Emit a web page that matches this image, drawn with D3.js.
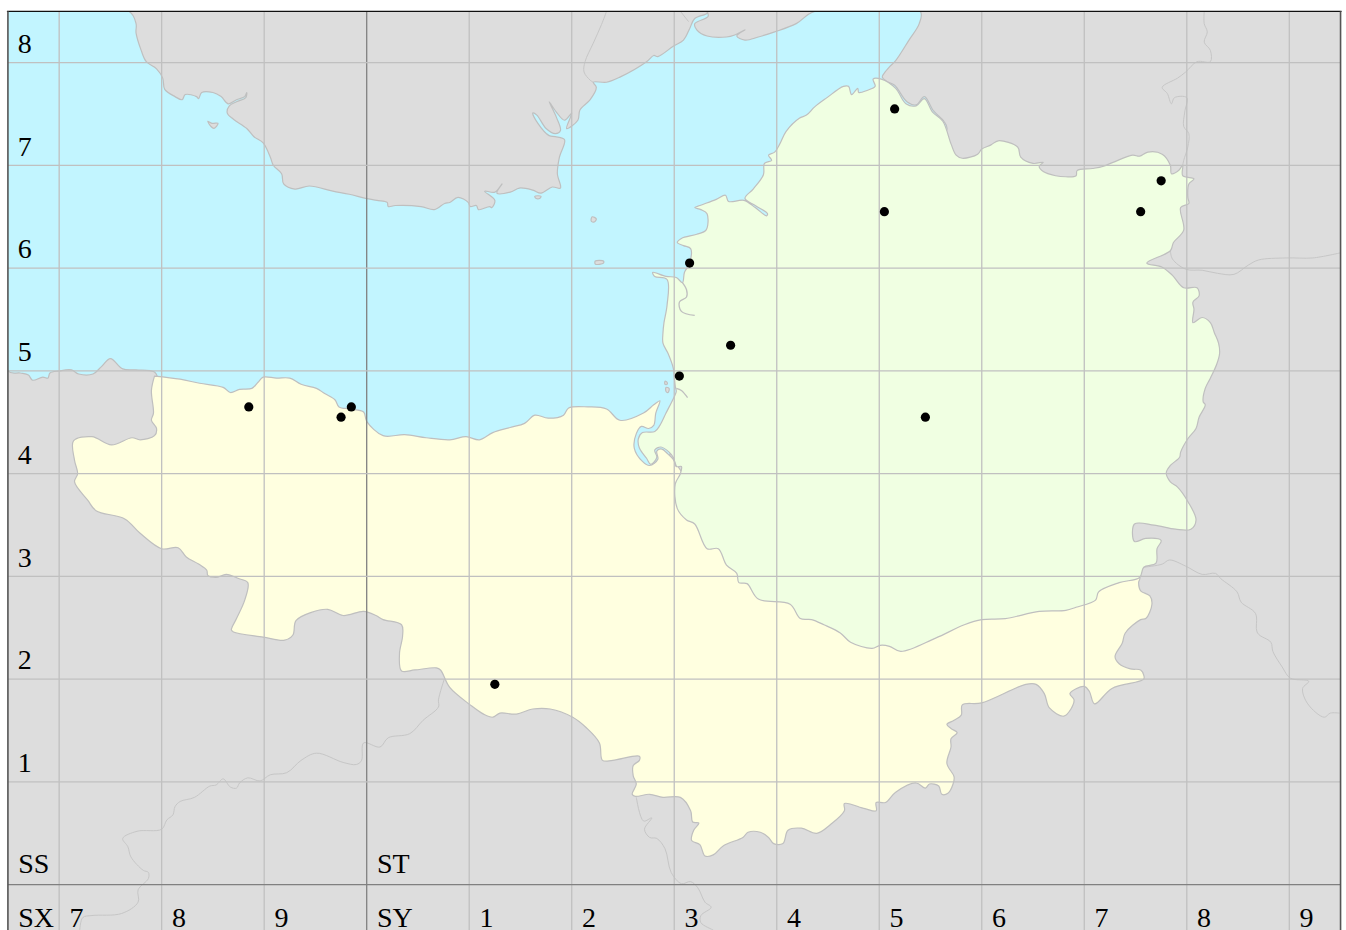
<!DOCTYPE html>
<html lang="en">
<head>
    <meta charset="UTF-8">
    <title>Somerset grid map</title>
    <script src="https://d3js.org/d3.v7.min.js"></script>
    <style>
        body { margin: 0; background: #ffffff; }
        svg { display: block; }
        .land-line { fill: none; stroke: #c6c6c6; stroke-width: 1; }
        .coast { stroke: #bfbfbf; stroke-width: 1.2; stroke-linejoin: round; }
        .grid { stroke: #c0c0c0; stroke-width: 1.3; }
        .grid100 { stroke: #808080; stroke-width: 1.3; }
        text { font-family: "Liberation Serif", serif; font-size: 28px; fill: #000; }
    </style>
</head>
<body>
<svg width="1346" height="930"></svg>
<script>
// everything is in national grid km (SS/ST sheet = 200-400 E, 100-200 N)
const gridEast = [270, 280, 290, 300, 310, 320, 330, 340, 350, 360, 370, 380, 390];
const gridNorth = [100, 110, 120, 130, 140, 150, 160, 170, 180];
const major = [300, 100];

const rowLabels = [[110, "1"], [120, "2"], [130, "3"], [140, "4"], [150, "5"], [160, "6"], [170, "7"], [180, "8"]];
const colLabels = [[270, "7"], [280, "8"], [290, "9"], [310, "1"], [320, "2"], [330, "3"], [340, "4"], [350, "5"], [360, "6"], [370, "7"], [380, "8"], [390, "9"]];
const squareLabels = [[266, 101.1, "SS"], [301, 101.1, "ST"], [266, 95.9, "SX"], [301, 95.9, "SY"]];

// sample sites
const sites = [[351.5, 175.5], [350.5, 165.5], [377.5, 168.5], [375.5, 165.5], [331.5, 160.5], [335.5, 152.5],
    [330.5, 149.5], [354.5, 145.5], [288.5, 146.5], [297.5, 145.5], [298.5, 146.5], [312.5, 119.5]];

// south wales coast, west to east
const walesCoast = [[276.8,185],[277.5,183.8],[277.5,182.9],[278,181.2],[278.5,180.1],[279.5,179.4],[280.1,178.5],[280.3,177.4],
    [281.3,176.7],[282,176.4],[282.3,176.9],[283.4,176.7],[283.6,176.5],[283.9,177.1],[285,177.1],[285.8,176.7],[286.5,176],
    [287.3,176.4],[288.1,176.7],[288.3,177.1],[288.2,176.6],[287.3,176.2],[286.6,175.8],[286.4,175.1],[287,174.5],[288.3,173.6],
    [289,172.8],[289.9,172.2],[290.6,170.8],[290.9,170],[291.7,169.2],[291.9,168.2],[293,167.7],[294.4,168],[296.7,167.5],
    [298.3,167.2],[299.9,166.8],[301,166.6],[302,166.4],[302.1,166],[302.8,166.1],[305.3,166],[306.6,165.7],[307.6,166.3],
    [308.1,166.4],[308.9,166.9],[309.9,166.4],[310.1,166],[310.7,166.1],[310.9,165.7],[312,166],[312.2,165.9],[312.5,166.6],
    [311.5,167.5],[312.5,167.4],[313.2,168.2],[312.7,167.3],[314,167.4],[314.9,167.8],[316.2,167.6],[317,167.3],[318.1,167.9],
    [318.9,167.8],[318.6,169.2],[318.8,170.8],[319.3,172.5],[318.4,172.8],[317.8,172.9],[316.7,174.1],[316.2,175.1],[316.6,174.9],
    [317.5,173.6],[318.4,173.1],[318.9,173.4],[318.5,174.7],[317.8,176.2],[318.5,175.2],[319.3,174.4],[320,175.1],[319.5,173.6],
    [320.6,174.4],[320.8,175.4],[321.8,176.4],[322.4,177.6],[322.1,178.1],[323.4,178.1],[324.7,178.6],[327.3,180.1],[328,180.7],
    [328.4,180.6],[329.9,181.6],[330.9,182.2],[331.5,183.3],[332,184.3],[333.2,184.8],[333.2,185]];
// gloucestershire shore, west to east
const gloucsCoast = [[333.3,184.5],[332,183.8],[332.2,183.2],[333.2,182.6],[335.1,182.5],[335.9,182.7],[336.9,183.2],[336.1,182.6],
    [336.9,182.2],[338.2,182.5],[339.8,183],[341.9,183.8],[343.7,185]];
// east shore and avon, runs in under the green part
const avonShore = [[354,185],[353.9,183.8],[352.9,182.2],[351.6,180.2],[351,179.6],[350.5,179],[350.3,178.6],[350.7,178.2],[351.5,177.8],
    [352.7,176.2],[353.6,175.9],[354.4,176.7],[355.3,175.3],[356.3,174.3],[356.6,173.5],[345,160],[331,146],[329,141],[326,140.5],
    [310,141],[285,143],[279.8,149]];
// north devon coast, east to west
const devonCoast = [[279.3,149.9],[277.5,150.1],[276.2,150.2],[275,151.2],[274.1,150.4],[273.3,149.7],[271.9,149.7],[271.2,150.1],[270,150],
    [269.1,149.8],[268.9,149.3],[268.4,149.4],[267.4,149.1],[267,149.6],[266.2,149.8],[265,150]];

// first area, yellow
const yellowNorth = [[279.3,149.5],[281.8,149.2],[283.7,148.8],[286,148.4],[286.7,147.9],[287.6,148.2],[288.8,148.3],[289.4,148.9],[289.9,149.4],
    [291.2,149.3],[292.5,149.3],[293.6,148.7],[295.1,148.3],[295.9,147.8],[296.9,147.2],[297.3,146.5],[298.4,146.3],[299.7,146],[300,145.1],
    [301.6,143.7],[303.7,143.8],[305.8,143.5],[308.1,143.3],[309.7,143.6],[311,143.3],[312.3,144],[314,144.5],[315.4,144.9],[316.4,145.7],
    [317.7,145.4],[319.2,145.7],[319.7,146.4],[321.6,146.5],[323.4,146.3],[324.7,145.2],[327,145.9],[328,146.7],[328.6,147.1]];
const yellowEstuary = [[328.2,145.9],[328,144.7],[327.5,144.4],[326.8,144.6],[326.3,143.9],[326.1,142.5],[326.9,141.2],[327.6,140.8],
    [328.4,141.4],[328.3,142.2],[328.8,142.4],[329.4,141.9],[329.9,141.4],[331.5,139],[335,135],[360,130]];
const yellowSouth = [[279.3,149.5],[279,148.1],[279.2,145.9],[279,145.2],[279.5,144.4],[279.3,143.7],[277.9,143.3],[277.1,143.5],[275.1,142.8],
    [273.2,143.6],[271.4,143.2],[271.5,141.3],[271.8,140],[271.5,139.2],[272.8,137.4],[273.6,136.4],[276.4,135.6],[277.9,134.2],[280,132.7],
    [281.6,132.8],[282.4,131.9],[283.6,131.2],[284.4,130.6],[284.5,130.1],[285.3,129.9],[286.3,130.2],[287.5,129.8],[288.4,129.4],[288.1,127.7],
    [287.3,125.9],[286.8,124.8],[287,124.6],[289.9,124.1],[292,123.8],[292.8,124.3],[293.1,125.7],[294.6,126.5],[296.2,126.8],[297.7,126.2],
    [299.7,126.6],[300.9,126.2],[301.6,125.8],[303.4,125.3],[303.5,124.2],[303.2,122.5],[303.4,120.8],[304.7,120.9],[306.8,121.1],[307.2,120.9],
    [308.1,119.2],[310.1,117.5],[311.4,116.6],[312.3,116.3],[313,116.7],[314.6,116.6],[316.2,117.1],[317.9,117.1],[320.1,116.3],[321.4,115.3],
    [322.7,113.8],[323,112.1],[324,112.1],[326.6,112.5],[326.6,112.1],[326,111.6],[326,110.6],[326.3,109.8],[325.9,108.8],[326.2,108.6],[327.6,108.8],
    [328.9,108.5],[330.6,108.5],[331.6,107.2],[331.8,106.1],[332.4,106],[331.9,105.3],[331.7,104.3],[332.5,103.9],[333,102.8],[333.8,102.9],[334.8,103.8],
    [336.7,104.6],[337.2,105.1],[338.4,105.1],[339.2,104.6],[339.7,104],[340.6,104],[341.1,105.3],[342.4,105.5],[343.9,105],[345.3,105.9],[346.6,107.2],
    [346.6,107.9],[348.6,107.4],[349.7,107.2],[349.7,108],[350.6,108],[351.6,109],[353.6,109.9],[354.5,109.4],[354.9,109.8],[355.8,109.6],[356.1,108.8],
    [356.7,108.9],[357.2,109.8],[357.3,110.5],[356.6,111.8],[357,113.4],[357,114.2],[357.6,114.8],[357,115.2],[356.6,115.6],[357.3,116],[358,116.5],
    [358.1,117.5],[360,117.7],[364.3,119.5],[365.3,119.5],[366.1,118.6],[366.6,117.2],[368,116.4],[368.7,117.1],[369,118],[368.6,118.6],[370,119.3],
    [370.5,118.8],[371,117.6],[372.7,119.1],[375.8,120],[375.8,120.4],[375.5,120.9],[374.5,121],[373.4,121.5],[373,122.2],[373.7,123.5],[374,124.5],
    [375.5,125.8],[376,125.9],[376.6,127.3],[376.4,128.1],[375.5,128.6],[375.3,129.4],[375.4,129.9]];

// second area, green. clockwise from the estuary
const greenCoast = [[329.9,150.3],[329.4,151.7],[328.9,152.7],[328.9,153.7],[329,154.7],[329.3,156.4],[329.3,158.9],[328.1,159.2],[327.9,159.6],
    [329.2,159.2],[330.2,159.1],[330.8,158.6],[331,159.6],[331.5,160.5],[331.6,161.9],[330.9,162.2],[330.3,162.5],[330.7,162.9],[332.2,163.3],[333.1,163.7],
    [333.2,165.3],[332.6,165.7],[332,165.9],[332.5,166.1],[334.1,166.7],[335,167.1],[335.3,166.5],[336.8,166.6],[337.9,165.9],[339,165.1],[339.1,165.3],
    [337.9,166.1],[336.9,166.8],[337.7,167.7],[338.7,169.1],[338.8,170.2],[339.5,170.5],[339.2,171],[339.8,171.3],[340.3,172.1],[340.9,173.3],[342.2,174.6],
    [342.9,174.9],[343.7,175.7],[344.9,176.6],[346.5,177.7],[347,177.7],[347.3,176.9],[347.9,177.5],[348,177.1],[348.8,177.3],[349.6,177.7],[349.4,178.4],[350.2,178.4]];
const greenEast = [[351.6,177.5],[352.6,176],[353.6,175.8],[354.4,176.5],[355.2,175.2],[356.2,174.3],[357,172.1],[357.5,171],[358.1,170.7],[359.6,171.1],[360,171.6],
    [360.9,172],[361.6,172.4],[363.5,171.8],[363.8,170.8],[365,170.2],[366,170.3],[365.6,169.9],[366,169.4],[367.2,169],[368.2,168.9],[369.2,169],[369.3,169.5],
    [370.8,169.7],[371.8,169.9],[372.8,170.3],[374.7,171],[375.4,170.9],[376.2,171.3],[377.6,171.1],[378.4,170],[378.5,169.2],[379.2,169.5],[379.6,170],[379.6,169],
    [380.7,168.7],[380.2,168.2],[380.1,166.9],[380.2,166.3],[379.4,165.9],[379.7,163.7],[378.7,162.5],[378.4,161.7],[376.1,160.5],[377.6,160.1],[378.6,159.3],
    [379.7,158.1],[381,158.1],[381.2,157.3],[380.6,156.7],[380.7,156],[380.6,154.7],[381.5,155.2],[382.3,154.7],[382.7,153.7],[383.1,152.7],[383.2,151.7],[382.9,150.6],
    [382.3,149.3],[381.8,148.3],[381.6,147],[381.8,146.7],[381.2,145.5],[380.9,144.4],[380.1,143.4],[379.4,142.1],[379.3,141.6],[378.4,140.8],[378,140.1],[378.4,139.2],
    [379.1,138.7],[380.1,137.3],[380.9,135.5],[380.4,134.6],[378.9,134.6],[376.8,135],[374.9,135.1],[374.9,133.4],[376,133.7],[377.5,133.5],[377.1,132.7],[377,131.3],
    [375.8,130.9],[375.4,129.9]];
const greenBorder = [[373.4,129.4],[371.4,128.5],[371.1,127.7],[369.2,127],[368.2,126.7],[365.6,126.6],[362.3,125.9],[360,125.8],[358.3,125.3],[355.5,124],[352.1,122.7],
    [351,123.2],[350.1,123.3],[349.3,123],[347.2,123.6],[346.2,124.5],[344.6,125.3],[343.4,125.8],[342.3,125.9],[341.3,127.3],[338.2,127.8],[337.1,129.3],[336.3,129.4],
    [336.1,130.3],[335.1,131.1],[334.3,132.7],[333.2,132.7],[332,135.1],[331.2,135.5],[330.3,136.6],[330.1,139],[330.6,140],[330.7,140.7],[330.2,140.7],[329.9,141.6],
    [329.5,142.1],[328.7,142.6],[328.1,142.3],[328.3,141.6],[327.7,140.9],[327.3,141.5],[326.6,142.5],[326.5,143.4],[326.9,144],[328.1,144.1],[328.6,144.7],[329.2,145.9],
    [330,147.5],[330.2,148],[330.1,148.5],[330,149.5]];

// islands in the channel
const islands = [
    [[284.5,174.3],[284.9,174.1],[285.5,174.1],[285.1,173.6],[284.8,173.8]],
    [[322,165],[322.4,164.8],[322.2,164.5],[321.9,164.6]],
    [[322.3,160.7],[323.1,160.7],[323.1,160.5],[322.3,160.4]],
    [[316.4,167],[317,167],[316.9,166.8],[316.5,166.8]],
    [[329.1,149],[329.3,148.9],[329.3,148.7],[329.1,148.7]],
    [[329.2,148.4],[329.5,148.3],[329.4,147.9],[329.2,148]]
];

// inland lines: rivers and county edges
const inlandLines = [
    [[323.4,185],[322.9,183.7],[322.1,181.9],[321.3,180.1],[321.2,179.1],[321.8,178.3],[322.1,178.1]],
    [[330.6,185],[331.4,184]],
    [[381.7,185],[381.7,183.8],[382,183],[381.7,182],[382.3,181.2],[382.3,180.1],[381,180.1],[379.9,179.1],[379.1,178.5],[377.6,177.6],[378.1,177],[378.5,176],[378.8,176.6],
     [380,176.6],[379.8,175.2],[379.7,173.8],[380.2,173.1],[380.1,171.8],[379.7,170.5],[379.6,170]],
    [[378.4,161.7],[378.6,160.9],[379.9,159.9],[381.5,159.8],[383,159.5],[384.6,159.4],[386,160.3],[387,160.8],[389.7,161],[392.3,161],[395,161.5]],
    [[375.8,130.9],[377.6,131.2],[378.3,131.6],[379.9,131],[381.5,130.2],[382.8,130.3],[383.3,129.8],[384.9,128.5],[385.3,127.5],[386.7,126.4],[386.9,124.5],[388.2,123.6],
     [388.4,122.7],[389.3,121.2],[390.1,120.1],[391.9,119.8],[391.3,119.1],[391.8,117.6],[393.4,116.3],[394,116.7],[394.9,116.7]],
    [[307.6,120.1],[307,118],[307,117.3],[305.5,116],[304.2,114.7],[302.1,114.3],[301.3,113.4],[299.7,113.8],[299.5,112.1],[299,111.7],[297.7,111.9],[295.1,112.8],[293.6,112.1],
     [292.2,110.9],[290.6,110.7],[289.6,110.1],[288.4,110.4],[287.6,109.9],[287.3,109.4],[286.7,109.5],[286,110.3],[285.3,109.7],[284.7,109.6],[283.2,108.5],[281.8,108.1],[281.3,107.6],
     [281.1,106.8],[280.5,106.3],[280,105.4],[277.6,105.2],[276.2,104.5],[276.7,103.7],[277,102.7],[278.2,101.4],[278.7,101.2],[278.7,100.6],[277.7,99.5],[277.7,98.3],[276.1,97.2],
     [273.2,97],[272.3,96.8],[272,95.5]],
    [[326.3,108.5],[327,106.2],[327.8,106.5],[327.1,105.4],[327.6,104.6],[328.3,104.5],[329.1,103.5],[329.7,101.2],[330.7,100.1],[331.6,100.3],[332.3,99.7],[333,98.3],[333.6,97.8],
     [332.6,97],[332.6,96.3],[333.8,95.6]]
];
const greenRivers = [
    [[330.8,158.6],[331.2,157.9],[331.2,157.2],[330.5,156.7],[330.7,155.8],[332,155.4]],
    [[330.2,148.3],[330.7,148.1],[331.3,147.4]],
    [[329.9,141.6],[330.2,140.7]]
];

const x = d3.scaleLinear().domain([300, 390]).range([366.7, 1289.3]);
const y = d3.scaleLinear().domain([100, 180]).range([884.7, 62.7]);
const east0 = 265, east1 = 395, north1 = 185, north0 = 95;

const svg = d3.select("svg");
const line = d3.line().x(d => x(d[0])).y(d => y(d[1])).curve(d3.curveCatmullRom.alpha(0.5));
const ring = d3.line().x(d => x(d[0])).y(d => y(d[1])).curve(d3.curveCatmullRomClosed.alpha(0.5));

svg.append("clipPath").attr("id", "frame").append("rect")
    .attr("x", x(east0)).attr("y", y(north1))
    .attr("width", x(east1) - x(east0)).attr("height", y(north0) - y(north1));

const map = svg.append("g").attr("clip-path", "url(#frame)");

// land background
map.append("rect")
    .attr("x", x(east0)).attr("y", y(north1))
    .attr("width", x(east1) - x(east0)).attr("height", y(north0) - y(north1))
    .attr("fill", "#dddddd");

map.selectAll(".land-line").data(inlandLines).enter().append("path")
    .attr("class", "land-line").attr("d", line);

// sea
const sea = [[east0, north1], ...walesCoast, ...gloucsCoast, ...avonShore, ...devonCoast];
map.append("path").attr("class", "coast").attr("d", ring(sea)).attr("fill", "#c2f5ff");

// the two areas
const yellow = [...yellowNorth, ...yellowEstuary, ...yellowSouth.slice().reverse()];
const green = [...greenCoast, ...greenEast, ...greenBorder];
map.append("path").attr("class", "coast").attr("d", ring(yellow)).attr("fill", "#ffffe0");
map.append("path").attr("class", "coast").attr("d", ring(green)).attr("fill", "#f0ffe2");

map.selectAll(".island").data(islands).enter().append("path")
    .attr("class", "coast island").attr("d", ring).attr("fill", "#dddddd");
map.selectAll(".river").data(greenRivers).enter().append("path")
    .attr("class", "land-line river").attr("d", line).style("stroke", "#bfbfbf").style("stroke-width", 1.3);

// grid
map.selectAll(".v").data(gridEast).enter().append("line")
    .attr("class", d => d === major[0] ? "grid100" : "grid")
    .attr("x1", d => x(d)).attr("x2", d => x(d))
    .attr("y1", y(north1)).attr("y2", y(north0));
map.selectAll(".h").data(gridNorth).enter().append("line")
    .attr("class", d => d === major[1] ? "grid100" : "grid")
    .attr("x1", x(east0)).attr("x2", x(east1))
    .attr("y1", d => y(d)).attr("y2", d => y(d));

// frame
svg.append("line").attr("x1", x(east0) - 1).attr("x2", x(east1) + 1).attr("y1", y(north1)).attr("y2", y(north1))
    .attr("stroke", "#111").attr("stroke-width", 1.3);
[east0, east1].forEach(e => {
    svg.append("line").attr("x1", x(e)).attr("x2", x(e)).attr("y1", y(north1)).attr("y2", y(north0))
        .attr("stroke", "#555").attr("stroke-width", 1.6);
});

// sites
svg.selectAll(".site").data(sites).enter().append("circle")
    .attr("class", "site")
    .attr("cx", d => x(d[0])).attr("cy", d => y(d[1]))
    .attr("r", 4.6).attr("fill", "#000");

// labels
svg.selectAll(".row").data(rowLabels).enter().append("text")
    .attr("x", x(265.95)).attr("y", d => y(d[0] + 0.95)).text(d => d[1]);
svg.selectAll(".col").data(colLabels).enter().append("text")
    .attr("x", d => x(d[0] + 1)).attr("y", y(95.9)).text(d => d[1]);
svg.selectAll(".sq").data(squareLabels).enter().append("text")
    .attr("x", d => x(d[0])).attr("y", d => y(d[1])).text(d => d[2]);
</script>
</body>
</html>
